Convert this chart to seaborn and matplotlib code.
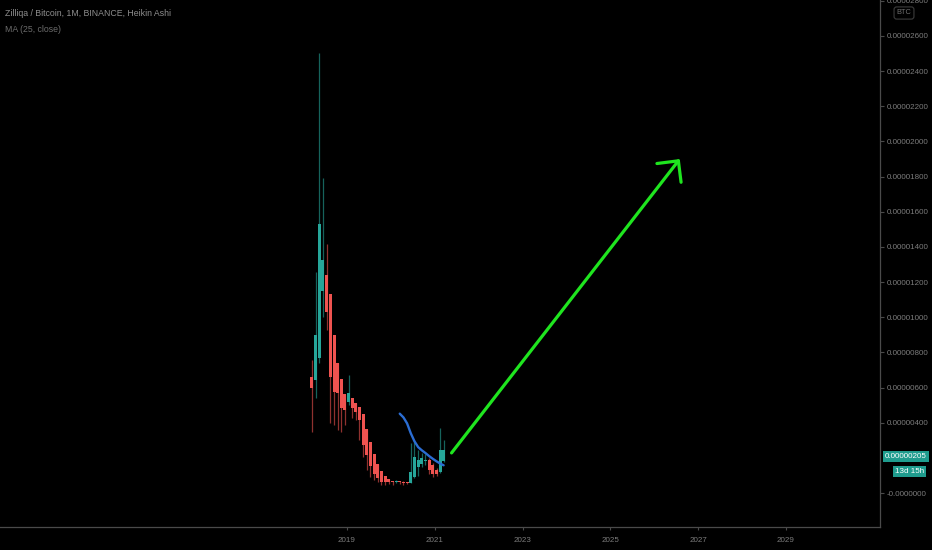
import numpy as np
import pandas as pd
import matplotlib
matplotlib.use("Agg")
import matplotlib.pyplot as plt
import matplotlib.dates as mdates
import matplotlib.transforms as mtransforms
import seaborn as sns

# Monthly Heikin Ashi candles for ZIL/BTC, values in satoshi (1e-8 BTC)
months = pd.date_range("2018-03-01", "2021-03-01", freq="MS")
ha_open = [660, 643, 768, 1149, 1240, 1135, 897, 740, 649, 563, 517, 543, 513,
           487, 451, 362, 289, 221, 165, 125, 94, 77, 70, 65, 67, 64, 61, 59,
           89, 147, 167, 183, 186, 158, 133, 122, 184]
ha_close = [597, 899, 1531, 1326, 1030, 660, 575, 569, 484, 472, 569, 484, 461,
            415, 273, 216, 154, 108, 85, 63, 60, 62, 60, 70, 60, 58, 57, 119,
            205, 188, 199, 190, 131, 108, 110, 245, 245]
ha_high = [757, 1257, 2504, 1792, 1417, 1135, 897, 740, 649, 563, 671, 543, 513,
           487, 451, 362, 289, 221, 165, 125, 94, 77, 70, 75, 67, 66, 62, 284,
           302, 245, 230, 220, 200, 170, 140, 370, 302]
ha_low = [347, 541, 740, 1000, 927, 400, 387, 358, 347, 387, 500, 427, 415,
          302, 205, 131, 91, 74, 60, 45, 45, 50, 48, 55, 50, 48, 50, 55,
          85, 95, 150, 160, 110, 90, 95, 115, 175]
ma_length = 25
last_price = 205
time_left = "13d 15h"

# hand drawn projection arrow (date, satoshi)
arrow_dates = ["2021-05-20", "2026-08-01"]
arrow_values = [228, 1900]

year_ticks = [2019, 2021, 2023, 2025, 2027, 2029]
# the 200 sat level is hidden behind the last price tag
price_ticks = [0] + list(range(400, 2801, 200))
price_labels = ["-0.0000000" if p == 0 else f"{p * 1e-8:.8f}" for p in price_ticks]

df = pd.DataFrame({"month": months, "open": ha_open, "close": ha_close,
                   "high": ha_high, "low": ha_low})
df["x"] = df["month"] + pd.Timedelta(days=14)
df["ma"] = df["close"].rolling(ma_length).mean()
df["up"] = df["close"] >= df["open"]

sns.set_theme(style="dark")
plt.rcParams["font.family"] = ["Liberation Sans", "DejaVu Sans"]

UP = "#26a69a"
DOWN = "#ef5350"
GREY = "#7c7c7c"
FS = 5.8

fig = plt.figure(figsize=(9.32, 5.5), dpi=100, facecolor="black")
ax = fig.add_axes([0, 23 / 550, 880 / 932, 527 / 550])
ax.set_facecolor("black")

colors = np.where(df["up"], UP, DOWN)
ax.vlines(df["x"], df["low"], df["high"], colors=colors, linewidth=0.9, alpha=0.6, zorder=2)
bottoms = np.minimum(df["open"], df["close"])
heights = np.abs(df["close"] - df["open"])
ax.bar(df["x"], heights, bottom=bottoms, width=25, color=colors, linewidth=0, zorder=3)

sns.lineplot(data=df.dropna(subset=["ma"]), x="x", y="ma", ax=ax,
             color="#2b6dd3", linewidth=1.7, zorder=4)

ax.annotate("", xy=(pd.Timestamp(arrow_dates[1]), arrow_values[1]),
            xytext=(pd.Timestamp(arrow_dates[0]), arrow_values[0]),
            arrowprops=dict(arrowstyle="->,head_length=1.1,head_width=1.1",
                            color="#1fe51f", lw=2.3, mutation_scale=10,
                            shrinkA=0, shrinkB=0), zorder=5)

# axis scales: 2019 at px 347, 2029 at px 786
d0 = mdates.date2num(pd.Timestamp("2019-01-01"))
d1 = mdates.date2num(pd.Timestamp("2029-01-01"))
ppu = (786 - 347) / (d1 - d0)
ax.set_xlim(d0 - 347 / ppu, d0 + (880 - 347) / ppu)
sat_per_px = 2600 / (493 - 36)
ax.set_ylim(-34 * sat_per_px, 493 * sat_per_px)

ax.set_xticks([mdates.date2num(pd.Timestamp(f"{y}-01-01")) for y in year_ticks])
ax.set_xticklabels([str(y) for y in year_ticks])
ax.set_yticks(price_ticks)
ax.set_yticklabels(price_labels)
ax.yaxis.tick_right()
ax.set_xlabel("")
ax.set_ylabel("")

for side in ["top", "left"]:
    ax.spines[side].set_visible(False)
for side in ["right", "bottom"]:
    ax.spines[side].set_visible(True)
    ax.spines[side].set_color("#4a4a4a")
    ax.spines[side].set_linewidth(0.9)

ax.tick_params(axis="y", which="both", right=True, left=False, length=3, width=0.8,
               color="#4a4a4a", labelcolor=GREY, labelsize=FS, pad=2)
ax.tick_params(axis="x", bottom=True, length=2, width=0.8, color="#4a4a4a",
               labelcolor=GREY, labelsize=FS, pad=5)
ax.grid(False)

# last price tag and countdown
trans = mtransforms.blended_transform_factory(ax.transAxes, ax.transData)
ax.text(1.0055, last_price, f"{last_price * 1e-8:.8f}", transform=trans,
        ha="left", va="center", color="white", fontsize=FS, clip_on=False,
        bbox=dict(boxstyle="square,pad=0.25", fc="#1f9c8e", ec="none"))
ax.annotate(time_left, xy=(1.0, last_price), xycoords=trans,
            xytext=(11, -10.8), textcoords="offset points", ha="left", va="center",
            color="white", fontsize=FS, annotation_clip=False,
            bbox=dict(boxstyle="square,pad=0.25", fc="#1f9c8e", ec="none"))

fig.text(5 / 932, 1 - 13 / 550, "Zilliqa / Bitcoin, 1M, BINANCE, Heikin Ashi",
         ha="left", va="center", color="#8e8e8e", fontsize=6.3)
fig.text(5 / 932, 1 - 29 / 550, "MA (25, close)",
         ha="left", va="center", color="#6c6c6c", fontsize=6.3)
fig.text(904 / 932, 1 - 13 / 550, "BTC", ha="center", va="center",
         color="#6f6f6f", fontsize=5.3,
         bbox=dict(boxstyle="round,pad=0.35", fc="black", ec="#3c3c3c", lw=0.8))

fig.savefig("out.png", dpi=100, facecolor="black")
